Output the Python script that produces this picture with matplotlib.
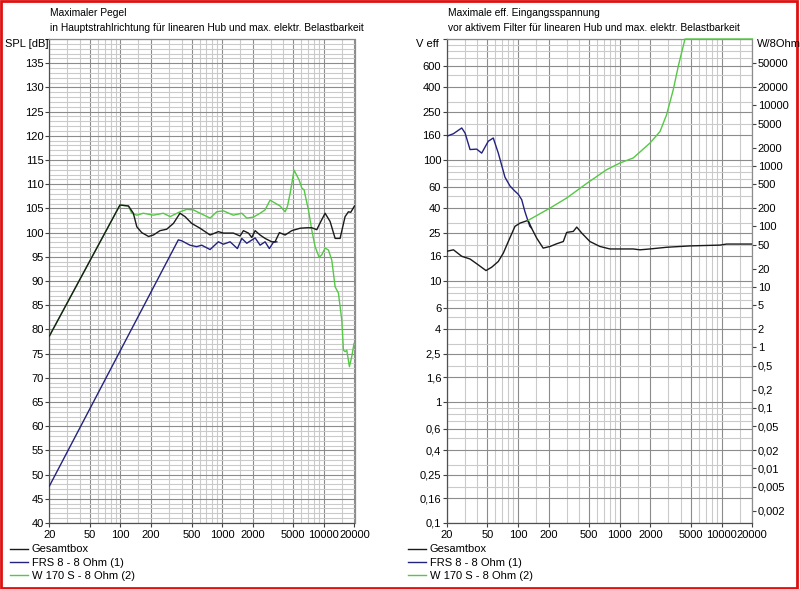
import numpy as np
import matplotlib
matplotlib.use('Agg')
import matplotlib.pyplot as plt
from matplotlib.ticker import FixedLocator, FixedFormatter, NullFormatter
from matplotlib.patches import Rectangle

plt.rcParams['font.family'] = ['Liberation Sans', 'DejaVu Sans']

# ---------------- data: left chart (max SPL) ----------------
spl_total_f = [20, 99, 120, 134, 145, 162, 189, 211, 245, 285, 332, 385, 432, 502, 607, 761,
               918, 1028, 1288, 1500, 1618, 1812, 1956, 2110, 2361, 2642, 3076, 3313, 3655,
               4160, 4836, 5835, 6790, 7606, 8518, 9180, 10280, 11510, 12900, 14430, 16160,
               17430, 18380, 20000]
spl_total = [78.6, 105.7, 105.5, 104.0, 101.2, 100.0, 99.2, 99.5, 100.4, 100.7, 101.9, 104.0,
             103.3, 101.9, 100.9, 99.5, 100.2, 99.9, 99.9, 99.3, 100.4, 99.9, 99.0, 100.4,
             99.5, 98.8, 98.1, 98.1, 100.0, 99.5, 100.4, 100.9, 101.0, 101.0, 100.6, 102.0,
             104.0, 102.3, 98.8, 98.8, 103.3, 104.3, 104.2, 105.5]

spl_frs_f = [20, 371, 401, 483, 562, 630, 761, 918, 1028, 1197, 1412, 1560, 1746, 2110, 2361,
             2642, 2911, 3190, 3450]
spl_frs = [47.6, 98.5, 98.3, 97.4, 97.1, 97.4, 96.5, 98.1, 97.6, 98.1, 96.7, 98.8, 97.8, 98.9,
           97.4, 98.1, 96.7, 98.0, 98.1]

spl_w170_f = [20, 99, 120, 129, 145, 168, 211, 264, 308, 385, 449, 521, 607, 761, 885, 1028,
              1288, 1560, 1746, 2028, 2361, 2642, 2960, 3313, 3708, 4160, 4380, 4657, 5094,
              5704, 6070, 6400, 6540, 7050, 7606, 8200, 8980, 9530, 10280, 11090, 11960,
              12900, 13900, 15000, 15570, 16160, 16790, 17830, 18800, 19800]
spl_w170 = [78.6, 105.7, 105.5, 104.0, 103.6, 104.0, 103.6, 104.0, 103.3, 104.3, 104.8, 104.7,
            104.0, 103.0, 104.3, 104.5, 103.6, 104.0, 103.0, 103.2, 104.0, 104.7, 106.7, 106.1,
            105.5, 104.3, 105.4, 108.1, 112.9, 110.9, 109.2, 108.8, 107.8, 104.7, 100.5, 97.1,
            94.9, 95.4, 96.8, 96.4, 94.3, 88.8, 87.5, 81.9, 75.7, 75.4, 75.7, 72.3, 74.4, 77.1]

# ---------------- data: right chart (max input voltage) ----------------
v_total_f = [20, 23.3, 28.1, 33.9, 40.8, 48.6, 55.3, 64.2, 71.9, 80.5, 93.6, 105, 126, 136,
             153, 177, 207, 240, 279, 301, 350, 378, 423, 509, 638, 801, 1356, 1578, 1978,
             2884, 4885, 9620, 11200, 20000]
v_total = [17.6, 18.1, 16.0, 15.2, 13.6, 12.2, 13.0, 14.5, 17.0, 21.2, 28.3, 30.1, 31.7, 27.4,
           22.6, 18.7, 19.3, 20.3, 21.2, 25.2, 25.7, 27.9, 24.9, 21.2, 19.3, 18.4, 18.4, 18.1,
           18.4, 19.0, 19.5, 19.8, 20.2, 20.2]

v_frs_f = [20, 23.3, 28.1, 30.3, 33.9, 39.4, 44.1, 51.2, 57.3, 64.2, 74.7, 83.6, 92, 101, 109,
           117, 126, 131, 136]
v_frs = [157, 165, 184, 167, 122, 123, 114, 143, 152, 114, 72, 61, 56, 52, 47, 37.6, 31.1,
         28.3, 27.4]

v_w170_f = [126, 207, 301, 473, 743, 1004, 1356, 1978, 2483, 2884, 3350, 3750, 4365, 20000]
v_w170 = [31.7, 40.1, 48.5, 64.0, 83.2, 94.4, 104, 138, 172, 237, 381, 594, 1000, 1000]

series_labels = ['Gesamtbox', 'FRS 8 - 8 Ohm (1)', 'W 170 S - 8 Ohm (2)']

x_major = [20, 50, 100, 200, 500, 1000, 2000, 5000, 10000, 20000]
x_minor = [30, 40, 60, 70, 80, 90, 150, 300, 400, 600, 700, 800, 900, 1500, 3000, 4000,
           6000, 7000, 8000, 9000, 15000]
spl_ticks = list(range(40, 136, 5))
v_ticks = [0.1, 0.16, 0.25, 0.4, 0.6, 1, 1.6, 2.5, 4, 6, 10, 16, 25, 40, 60, 100, 160, 250,
           400, 600]
v_minor = [0.2, 0.3, 0.5, 0.7, 0.8, 0.9, 2, 3, 5, 7, 8, 9, 20, 30, 50, 70, 80, 90, 200, 300,
           500, 700, 800, 900]
p_ticks = [0.002, 0.005, 0.01, 0.02, 0.05, 0.1, 0.2, 0.5, 1, 2, 5, 10, 20, 50, 100, 200, 500,
           1000, 2000, 5000, 10000, 20000, 50000]

C_BLACK = '#1a1a1a'
C_BLUE = '#23237f'
C_GREEN = '#55c845'
C_MAJ = '#8c8c8c'
C_MIN = '#cacaca'
FS = 8


def de(v):
    s = ('%g' % v)
    return s.replace('.', ',')


W, H = 800, 589
fig = plt.figure(figsize=(8, 5.89), dpi=100)
fig.patch.set_facecolor('white')


def fx(px):
    return px / W


def fy(py):
    return 1 - py / H


axL = fig.add_axes([fx(49.3), fy(523), (354.5 - 49.3) / W, (523 - 39) / H])
axR = fig.add_axes([fx(446.7), fy(523), (752.3 - 446.7) / W, (523 - 39) / H])


def style_x(ax):
    ax.set_xscale('log')
    ax.set_xlim(20, 20000)
    ax.xaxis.set_major_locator(FixedLocator(x_major))
    ax.xaxis.set_major_formatter(FixedFormatter([str(v) for v in x_major]))
    ax.xaxis.set_minor_locator(FixedLocator(x_minor))
    ax.xaxis.set_minor_formatter(NullFormatter())
    ax.tick_params(axis='x', which='major', direction='out', length=3, width=0.8,
                   color='#404040', labelsize=FS, pad=2)
    ax.tick_params(axis='both', which='minor', length=0)
    for s in ax.spines.values():
        s.set_color(C_MAJ)
        s.set_linewidth(0.9)
    ax.spines['left'].set_color('#505050')
    ax.spines['bottom'].set_color('#505050')
    ax.grid(True, which='major', color=C_MAJ, lw=0.8)
    ax.grid(True, which='minor', color=C_MIN, lw=0.8)
    ax.set_axisbelow(True)


# ---------------- left chart ----------------
style_x(axL)
axL.set_ylim(40, 140)
axL.yaxis.set_major_locator(FixedLocator(spl_ticks + [140]))
axL.yaxis.set_major_formatter(FixedFormatter([str(v) for v in spl_ticks] + ['']))
axL.yaxis.set_minor_locator(FixedLocator([v for v in range(40, 141) if v % 5]))
axL.yaxis.set_minor_formatter(NullFormatter())
axL.tick_params(axis='y', which='major', direction='out', length=3, width=0.8,
                color='#404040', labelsize=FS, pad=1)
lg = axL.plot(spl_w170_f, spl_w170, color=C_GREEN, lw=1.0, zorder=3)
lb = axL.plot(spl_frs_f, spl_frs, color=C_BLUE, lw=1.0, zorder=4)
lk = axL.plot(spl_total_f, spl_total, color=C_BLACK, lw=1.0, zorder=5)

# ---------------- right chart ----------------
style_x(axR)
axR.set_yscale('log')
axR.set_ylim(0.1, 1000)
axR.yaxis.set_major_locator(FixedLocator(v_ticks + [1000]))
axR.yaxis.set_major_formatter(FixedFormatter([de(v) for v in v_ticks] + ['']))
axR.yaxis.set_minor_locator(FixedLocator(v_minor))
axR.yaxis.set_minor_formatter(NullFormatter())
axR.tick_params(axis='y', which='major', direction='out', length=3, width=0.8,
                color='#404040', labelsize=FS, pad=1)
axR.plot(v_w170_f, v_w170, color=C_GREEN, lw=1.0, zorder=6, clip_on=False)
axR.plot(v_frs_f, v_frs, color=C_BLUE, lw=1.0, zorder=4)
axR.plot(v_total_f, v_total, color=C_BLACK, lw=1.0, zorder=5)

axP = axR.twinx()
axP.set_yscale('log')
axP.set_ylim(0.1 ** 2 / 8, 1000 ** 2 / 8)
axP.yaxis.set_major_locator(FixedLocator(p_ticks))
axP.yaxis.set_major_formatter(FixedFormatter([de(v) for v in p_ticks]))
axP.yaxis.set_minor_locator(FixedLocator([]))
axP.tick_params(axis='y', which='major', direction='out', length=3, width=0.8,
                color='#404040', labelsize=FS, pad=1)
for s in axP.spines.values():
    s.set_visible(False)
axP.set_zorder(axR.get_zorder() - 1)
axR.patch.set_visible(False)
axP.patch.set_visible(True)
axP.patch.set_facecolor('white')

# ---------------- texts ----------------
TFS = 7.35
fig.text(fx(50), fy(12.5), 'Maximaler Pegel', fontsize=TFS, va='center', ha='left')
fig.text(fx(50), fy(28), 'in Hauptstrahlrichtung für linearen Hub und max. elektr. Belastbarkeit',
         fontsize=TFS, va='center', ha='left')
fig.text(fx(448), fy(12.5), 'Maximale eff. Eingangsspannung', fontsize=TFS, va='center', ha='left')
fig.text(fx(448), fy(28), 'vor aktivem Filter für linearen Hub und max. elektr. Belastbarkeit',
         fontsize=TFS, va='center', ha='left')
fig.text(fx(5), fy(44), 'SPL [dB]', fontsize=FS, va='center', ha='left')
fig.text(fx(416), fy(44), 'V eff', fontsize=FS, va='center', ha='left')
fig.text(fx(757), fy(44), 'W/8Ohm', fontsize=FS, va='center', ha='left')

# ---------------- legends ----------------
handles = [lk[0], lb[0], lg[0]]
for x0 in (10, 408):
    fig.legend(handles, series_labels, loc='upper left',
               bbox_to_anchor=(fx(x0), fy(544.5)), bbox_transform=fig.transFigure,
               frameon=False, fontsize=FS, handlelength=1.6, handletextpad=0.35,
               labelspacing=0.28, borderpad=0, borderaxespad=0)

# ---------------- red frame ----------------
fig.patches.append(Rectangle((fx(1.2), fy(587.5)), (796.5 - 1.2) / W, (587.5 - 1.2) / H,
                             transform=fig.transFigure, fill=False,
                             edgecolor='#e01010', lw=2.0))

fig.savefig('out.png', dpi=100, facecolor='white')
